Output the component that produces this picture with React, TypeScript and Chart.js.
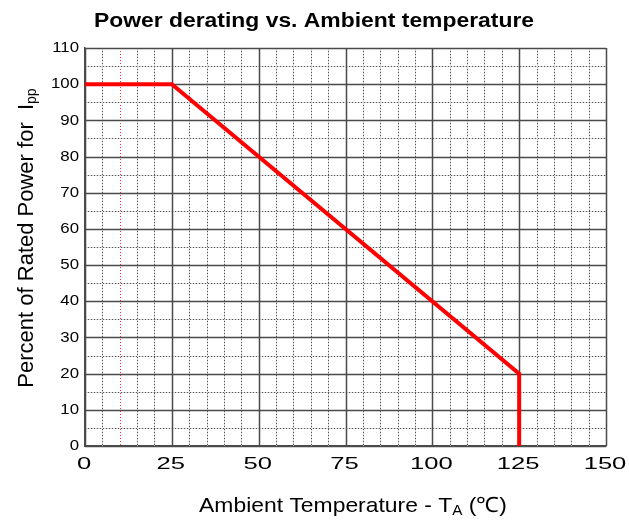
import React, { useEffect, useRef } from "react";
import { Chart, registerables } from "chart.js";

Chart.register(...registerables);

const tempPoints = [0, 25, 125, 125];
const powerPoints = [100, 100, 20, 0];
const xTicks = [0, 25, 50, 75, 100, 125, 150];
const yTicks = [0, 10, 20, 30, 40, 50, 60, 70, 80, 90, 100, 110];
const minorStepX = 5;
const minorStepY = 5;
const markerTemp = 10;

const titleText = "Power derating vs. Ambient temperature";
const yTitleMain = "Percent of Rated Power for  I";
const yTitleSub = "pp";
const xTitleMain = "Ambient Temperature - T";
const xTitleSub = "A";
const xTitleEnd = " (\u2103)";

const SANS = "'Liberation Sans', Arial, sans-serif";

function drawStretched(ctx: any, text: string, x: number, y: number, align: string, sx: number) {
  ctx.save();
  const w = ctx.measureText(text).width * sx;
  let left = x;
  if (align === "center") left = x - w / 2;
  else if (align === "right") left = x - w;
  ctx.translate(left, y);
  ctx.scale(sx, 1);
  ctx.textAlign = "left";
  ctx.fillText(text, 0, 0);
  ctx.restore();
  return w;
}

const gridPlugin = {
  id: "customGrid",
  beforeDatasetsDraw(chart: any) {
    const { ctx, chartArea: a, scales } = chart;
    const xs = scales.x;
    const ys = scales.y;
    ctx.save();
    ctx.lineWidth = 1;
    for (let v = xs.min; v <= xs.max; v += minorStepX) {
      if (xTicks.includes(v)) continue;
      const px = Math.round(xs.getPixelForValue(v)) + 0.5;
      const isMarker = v === markerTemp;
      if (!isMarker) {
        ctx.strokeStyle = "#d4d4d4";
        ctx.setLineDash([]);
        ctx.beginPath();
        ctx.moveTo(px, a.top);
        ctx.lineTo(px, a.bottom);
        ctx.stroke();
      }
      ctx.strokeStyle = isMarker ? "#ff3030" : "#555";
      ctx.setLineDash([1, 2]);
      ctx.beginPath();
      ctx.moveTo(px, a.top);
      ctx.lineTo(px, a.bottom);
      ctx.stroke();
    }
    for (let v = ys.min; v <= ys.max; v += minorStepY) {
      if (yTicks.includes(v)) continue;
      const py = Math.round(ys.getPixelForValue(v)) + 0.5;
      ctx.strokeStyle = "#d4d4d4";
      ctx.setLineDash([]);
      ctx.beginPath();
      ctx.moveTo(a.left, py);
      ctx.lineTo(a.right, py);
      ctx.stroke();
      ctx.strokeStyle = "#555";
      ctx.setLineDash([1, 2]);
      ctx.beginPath();
      ctx.moveTo(a.left, py);
      ctx.lineTo(a.right, py);
      ctx.stroke();
    }
    ctx.setLineDash([]);
    ctx.strokeStyle = "#4a4a4a";
    ctx.lineWidth = 1.5;
    for (const v of xTicks) {
      const px = Math.round(xs.getPixelForValue(v)) + 0.5;
      ctx.beginPath();
      ctx.moveTo(px, a.top);
      ctx.lineTo(px, a.bottom);
      ctx.stroke();
    }
    for (const v of yTicks) {
      const py = Math.round(ys.getPixelForValue(v)) + 0.5;
      ctx.beginPath();
      ctx.moveTo(a.left, py);
      ctx.lineTo(a.right, py);
      ctx.stroke();
    }
    ctx.restore();
  },
  afterDraw(chart: any) {
    const { ctx, chartArea: a, scales } = chart;
    const xs = scales.x;
    const ys = scales.y;
    ctx.save();
    ctx.fillStyle = "#000";

    // tick labels
    ctx.textBaseline = "middle";
    ctx.font = "15px " + SANS;
    for (const v of yTicks) {
      drawStretched(ctx, String(v), a.left - 6, ys.getPixelForValue(v), "right", 1.12);
    }
    ctx.font = "16px " + SANS;
    for (const v of xTicks) {
      drawStretched(ctx, String(v), xs.getPixelForValue(v) - 1, a.bottom + 19, "center", 1.6);
    }

    // title
    ctx.font = "bold 21px " + SANS;
    ctx.textBaseline = "alphabetic";
    drawStretched(ctx, titleText, 314, 27, "center", 1.09);

    // x title
    const mainFont = "21px " + SANS;
    const subFont = "14px " + SANS;
    const sx = 1.09;
    ctx.font = mainFont;
    const w1 = ctx.measureText(xTitleMain).width * sx;
    const w3 = ctx.measureText(xTitleEnd).width * sx;
    ctx.font = subFont;
    const w2 = ctx.measureText(xTitleSub).width * sx;
    const x0 = 353 - (w1 + w2 + w3) / 2;
    const baseY = 512;
    ctx.font = mainFont;
    drawStretched(ctx, xTitleMain, x0, baseY, "left", sx);
    ctx.font = subFont;
    drawStretched(ctx, xTitleSub, x0 + w1, baseY + 3, "left", sx);
    ctx.font = mainFont;
    drawStretched(ctx, xTitleEnd, x0 + w1 + w2, baseY, "left", sx);

    // y title
    ctx.translate(33, 238);
    ctx.rotate(-Math.PI / 2);
    const yMain = "22px " + SANS;
    const ySub = "14px " + SANS;
    ctx.font = yMain;
    const yw1 = ctx.measureText(yTitleMain).width;
    ctx.font = ySub;
    const yw2 = ctx.measureText(yTitleSub).width;
    const y0 = -(yw1 + yw2) / 2;
    ctx.textAlign = "left";
    ctx.font = yMain;
    ctx.fillText(yTitleMain, y0, 0);
    ctx.font = ySub;
    ctx.fillText(yTitleSub, y0 + yw1, 3);
    ctx.restore();
  },
};

export default function App() {
  const ref = useRef<HTMLCanvasElement | null>(null);
  useEffect(() => {
    document.body.style.margin = "0";
    const data = tempPoints.map((t, i) => ({ x: t, y: powerPoints[i] }));
    const chart = new Chart(ref.current as HTMLCanvasElement, {
      type: "scatter",
      data: {
        datasets: [
          {
            data,
            showLine: true,
            borderColor: "#ff0000",
            borderWidth: 4,
            pointRadius: 0,
            fill: false,
            tension: 0,
          },
        ],
      },
      plugins: [gridPlugin],
      options: {
        animation: false,
        responsive: false,
        events: [],
        layout: { padding: { left: 0, right: 23, top: 48, bottom: 0 } },
        plugins: { legend: { display: false }, tooltip: { enabled: false }, title: { display: false } },
        scales: {
          x: {
            type: "linear",
            min: 0,
            max: 150,
            ticks: { stepSize: 25, display: false },
            grid: { display: false, drawTicks: false },
            border: { display: true, color: "#4a4a4a", width: 1.5 },
            afterFit(scale: any) {
              scale.height = 74;
            },
          },
          y: {
            type: "linear",
            min: 0,
            max: 110,
            ticks: { stepSize: 10, display: false },
            grid: { display: false, drawTicks: false },
            border: { display: true, color: "#4a4a4a", width: 1.5 },
            afterFit(scale: any) {
              scale.width = 85;
            },
          },
        },
      },
    });
    return () => chart.destroy();
  }, []);
  return <canvas ref={ref} width={629} height={520} style={{ display: "block" }} />;
}
